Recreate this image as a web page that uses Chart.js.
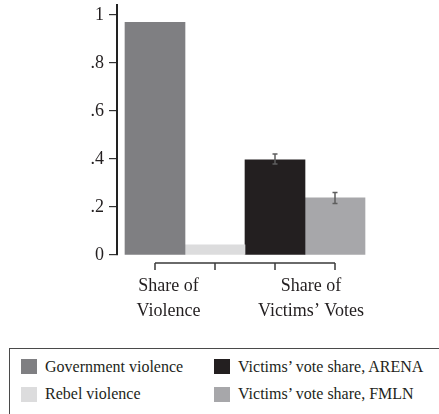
<!DOCTYPE html>
<html>
<head>
<meta charset="utf-8">
<script src="https://cdn.jsdelivr.net/npm/chart.js@4.4.1/dist/chart.umd.min.js"></script>
<style>
  html, body { margin: 0; padding: 0; background: #fff; overflow: hidden; }
  #wrap { position: relative; width: 439px; height: 414px; }
  #chart { position: absolute; left: 0; top: 0; }
  #legend {
    position: absolute; left: 9px; top: 348px; width: 470px; height: 90px;
    border: 1.5px solid #4a4a4a; box-sizing: border-box;
    padding: 4px 0 0 11px;
    display: grid; grid-auto-flow: column;
    grid-template-rows: 27.5px 27.5px; grid-template-columns: 193px auto;
    font-family: "Liberation Serif", "Times New Roman", serif; font-size: 16px; color: #231f20;
  }
  .item { display: flex; align-items: center; white-space: nowrap; }
  .swatch { width: 16px; height: 15px; margin-right: 8px; flex: none; }
</style>
</head>
<body>
<div id="wrap">
  <canvas id="chart" width="439" height="345"></canvas>
  <div id="legend"></div>
</div>
<script>
// Shares per bar, in drawing order
const groupLabels = [['Share of', 'Violence'], ['Share of', 'Victims’ Votes']];
const seriesNames = ['Government violence', 'Rebel violence', 'Victims’ vote share, ARENA', 'Victims’ vote share, FMLN'];
const shares = [0.97, 0.042, 0.397, 0.238];
const ciLow = [null, null, 0.379, 0.215];
const ciHigh = [null, null, 0.421, 0.26];
const yTicks = [0, 0.2, 0.4, 0.6, 0.8, 1];
const yTickLabels = ['0', '.2', '.4', '.6', '.8', '1'];

const barColors = ['#7f7f82', '#dcdcdd', '#231f20', '#a7a7aa'];
const FONT = '"Liberation Serif", "Times New Roman", serif';

// error bars + the bracket under the bars
const extras = {
    id: 'extras',
    afterDatasetsDraw(chart) {
        const ctx = chart.ctx;
        const y = chart.scales.y;
        const x = chart.scales.x;
        ctx.save();
        ctx.strokeStyle = '#5e5e5e';
        ctx.lineWidth = 1.5;
        chart.data.datasets.forEach((ds, i) => {
            if (ciLow[i] == null) return;
            const bar = chart.getDatasetMeta(i).data[0];
            const top = y.getPixelForValue(ciHigh[i]);
            const bot = y.getPixelForValue(ciLow[i]);
            ctx.beginPath();
            ctx.moveTo(bar.x, top);
            ctx.lineTo(bar.x, bot);
            ctx.moveTo(bar.x - 2.5, top);
            ctx.lineTo(bar.x + 2.5, top);
            ctx.moveTo(bar.x - 2.5, bot);
            ctx.lineTo(bar.x + 2.5, bot);
            ctx.stroke();
        });

        const by = chart.chartArea.bottom + 8;
        const xs = shares.map((v, i) => x.getPixelForValue(i));
        ctx.strokeStyle = '#3a3a3a';
        ctx.lineWidth = 1.5;
        ctx.beginPath();
        ctx.moveTo(xs[0], by);
        ctx.lineTo(xs[xs.length - 1], by);
        xs.forEach(px => {
            ctx.moveTo(px, by);
            ctx.lineTo(px, by + 7);
        });
        ctx.stroke();
        ctx.restore();
    }
};

const ctx = document.getElementById('chart').getContext('2d');
const chart = new Chart(ctx, {
    type: 'bar',
    data: {
        datasets: seriesNames.map((name, i) => ({
            label: name,
            data: [{ x: i, y: shares[i] }],
            backgroundColor: barColors[i],
            stack: 'bars',
            barPercentage: 1,
            categoryPercentage: 1
        }))
    },
    options: {
        responsive: false,
        animation: false,
        layout: { padding: { left: 0, top: 5, right: 66, bottom: 0 } },
        plugins: { legend: { display: false }, tooltip: { enabled: false } },
        scales: {
            x: {
                type: 'linear',
                min: -0.6333,
                max: 3.6333,
                offset: false,
                grid: { display: false, offset: false, drawTicks: false },
                border: { display: false },
                afterBuildTicks: s => { s.ticks = [{ value: 0.225 }, { value: 2.6 }]; },
                afterFit: s => { s.height = 90; s.paddingLeft = 0; s.paddingRight = 0; },
                ticks: {
                    padding: 19,
                    maxRotation: 0,
                    autoSkip: false,
                    color: '#231f20',
                    font: { family: FONT, size: 18, lineHeight: 25 / 18 },
                    callback: (v, i) => groupLabels[i]
                }
            },
            y: {
                min: 0,
                max: 1.0417,
                stacked: false,
                afterBuildTicks: s => { s.ticks = yTicks.map(v => ({ value: v })); },
                afterFit: s => { s.width = 117; s.paddingTop = 0; s.paddingBottom = 0; },
                grid: { drawOnChartArea: false, tickLength: 8, color: '#333', lineWidth: 1.2 },
                border: { display: true, color: '#222', width: 2 },
                ticks: {
                    padding: 5,
                    color: '#231f20',
                    font: { family: FONT, size: 18 },
                    callback: (v, i) => yTickLabels[i]
                }
            }
        }
    },
    plugins: [extras]
});

// legend box, filled column by column
const legend = document.getElementById('legend');
chart.data.datasets.forEach(ds => {
    const item = document.createElement('div');
    item.className = 'item';
    const sw = document.createElement('span');
    sw.className = 'swatch';
    sw.style.background = ds.backgroundColor;
    item.appendChild(sw);
    item.appendChild(document.createTextNode(ds.label));
    legend.appendChild(item);
});
</script>
</body>
</html>
